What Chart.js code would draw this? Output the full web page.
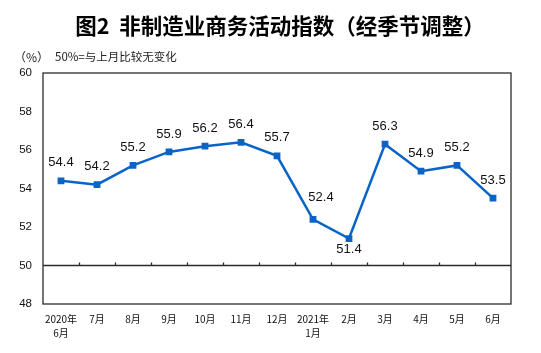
<!DOCTYPE html>
<html>
<head>
<meta charset="utf-8">
<script src="https://cdn.jsdelivr.net/npm/chart.js@4/dist/chart.umd.min.js"></script>
<style>
  html, body { margin: 0; padding: 0; background: #fff; }
  #wrap { width: 541px; height: 353px; }
</style>
</head>
<body>
<div id="wrap"><canvas id="pmiChart" width="541" height="353"></canvas></div>
<script>
// Dữ liệu: chỉ số hoạt động kinh doanh phi chế tạo (đã điều chỉnh mùa vụ)
const months = [
    ['2020年', '6月'], '7月', '8月', '9月', '10月', '11月', '12月',
    ['2021年', '1月'], '2月', '3月', '4月', '5月', '6月'
];
const indexValues = [54.4, 54.2, 55.2, 55.9, 56.2, 56.4, 55.7, 52.4, 51.4, 56.3, 54.9, 55.2, 53.5];
const yTicks = [48, 50, 52, 54, 56, 58, 60];

const titleText = '图2  非制造业商务活动指数（经季节调整）';
const unitText = '（%）';
const noteText = '50%=与上月比较无变化';

const LINE_COLOR = '#0a64c8';
const AXIS_COLOR = '#2b2b2b';
const CJK_FONT = "'Noto Sans CJK SC', 'Liberation Sans', sans-serif";
const NUM_FONT = "'Liberation Sans', Arial, sans-serif";

// Tiêu đề + chú thích phía trên
const headerPlugin = {
    id: 'header',
    afterDraw(chart) {
        const ctx = chart.ctx;
        ctx.save();
        ctx.fillStyle = '#000';
        ctx.textBaseline = 'middle';
        ctx.textAlign = 'center';
        ctx.font = 'bold 21.5px ' + CJK_FONT;
        ctx.fillText(titleText, 280, 26);

        ctx.textAlign = 'left';
        ctx.fillStyle = '#222';
        ctx.font = '12px ' + CJK_FONT;
        ctx.fillText(unitText, 14, 57);
        ctx.font = '11.5px ' + CJK_FONT;
        ctx.fillText(noteText, 55, 57);
        ctx.restore();
    }
};

// Khung vuông + đường 50 có vạch chia
const framePlugin = {
    id: 'frame',
    beforeDatasetsDraw(chart) {
        const { ctx, chartArea: a, scales } = chart;
        ctx.save();
        ctx.strokeStyle = AXIS_COLOR;
        ctx.lineWidth = 1.3;
        ctx.strokeRect(a.left, a.top, a.right - a.left, a.bottom - a.top);

        const y50 = scales.y.getPixelForValue(50);
        ctx.beginPath();
        ctx.moveTo(a.left, y50);
        ctx.lineTo(a.right, y50);
        // vạch chia giữa các tháng, hướng lên
        const step = (a.right - a.left) / months.length;
        for (let i = 1; i < months.length; i++) {
            const x = Math.round(a.left + step * i) + 0.5;
            ctx.moveTo(x, y50);
            ctx.lineTo(x, y50 - 3);
        }
        ctx.stroke();
        ctx.restore();
    }
};

// Nhãn giá trị trên mỗi điểm
const valueLabelPlugin = {
    id: 'valueLabels',
    afterDatasetsDraw(chart) {
        const ctx = chart.ctx;
        const meta = chart.getDatasetMeta(0);
        // dịch nhãn riêng cho vài điểm
        const shift = { 7: { dx: 8, dy: -22 }, 8: { dx: 0, dy: 11 } };
        ctx.save();
        ctx.font = '13px ' + NUM_FONT;
        ctx.fillStyle = '#111';
        ctx.textAlign = 'center';
        ctx.textBaseline = 'middle';
        meta.data.forEach((pt, i) => {
            const s = shift[i] || { dx: 0, dy: -18 };
            ctx.fillText(indexValues[i].toFixed(1), pt.x + s.dx, pt.y + s.dy);
        });
        ctx.restore();
    }
};

new Chart(document.getElementById('pmiChart').getContext('2d'), {
    type: 'line',
    data: {
        labels: months,
        datasets: [{
            data: indexValues,
            borderColor: LINE_COLOR,
            backgroundColor: LINE_COLOR,
            borderWidth: 2.5,
            pointStyle: 'rect',
            pointRadius: 4.8,
            pointBorderWidth: 0,
            tension: 0
        }]
    },
    options: {
        responsive: false,
        animation: false,
        layout: { padding: { top: 73, right: 30, left: 0, bottom: 0 } },
        plugins: {
            legend: { display: false },
            tooltip: { enabled: false },
            title: { display: false }
        },
        scales: {
            x: {
                offset: true,
                grid: { display: false, drawTicks: false },
                border: { display: false },
                ticks: {
                    autoSkip: false,
                    maxRotation: 0,
                    padding: 8,
                    color: '#111',
                    font: { family: CJK_FONT, size: 10, lineHeight: 1.4 }
                },
                afterFit(scale) { scale.height = 49; }
            },
            y: {
                min: 48,
                max: 60,
                afterBuildTicks(scale) { scale.ticks = yTicks.map(v => ({ value: v })); },
                grid: { display: false, drawTicks: false },
                border: { display: false },
                ticks: {
                    padding: 11,
                    color: '#111',
                    font: { family: NUM_FONT, size: 11.5 }
                },
                afterFit(scale) { scale.width = 43; }
            }
        }
    },
    plugins: [framePlugin, valueLabelPlugin, headerPlugin]
});
</script>
</body>
</html>
